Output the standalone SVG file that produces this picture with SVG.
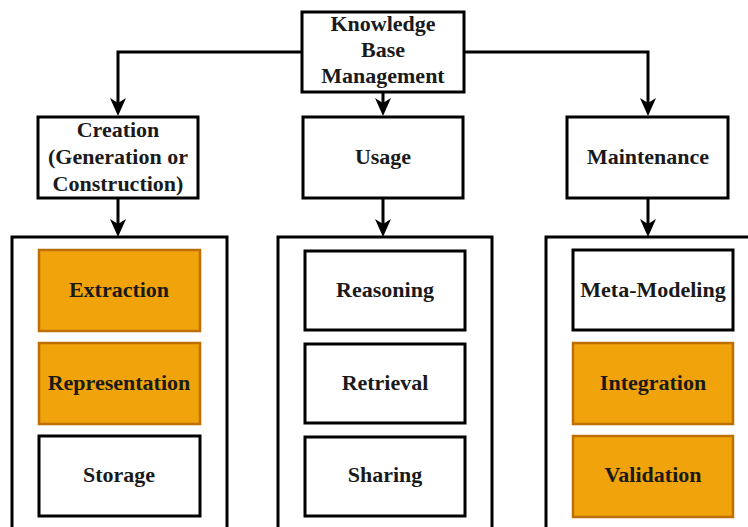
<svg xmlns="http://www.w3.org/2000/svg" width="748" height="527" viewBox="0 0 748 527">
  <style>
    .box { fill: #ffffff; stroke: #000000; stroke-width: 3; }
    .frame { fill: #ffffff; stroke: #000000; stroke-width: 3; }
    .hot { fill: #f0a30a; stroke: #bd7000; stroke-width: 2.5; }
    .lbl { font-family: "Liberation Serif", "Times New Roman", serif; font-weight: bold; font-size: 22px; fill: #1a1a1a; text-anchor: middle; }
    .edge { fill: none; stroke: #000000; stroke-width: 3; }
  </style>
  <defs>
    <marker id="arrow" markerUnits="userSpaceOnUse" markerWidth="18" markerHeight="18" refX="8" refY="8" orient="auto" viewBox="0 0 18 16">
      <path d="M0,0 L18,8 L0,16 L5,8 Z" fill="#000000"/>
    </marker>
  </defs>

  <rect width="748" height="527" fill="#ffffff"/>

  <!-- column frames -->
  <g id="frame-creation"><rect class="frame" x="12" y="237" width="215" height="310"/></g>
  <g id="frame-usage"><rect class="frame" x="278" y="237" width="214" height="310"/></g>
  <g id="frame-maintenance"><rect class="frame" x="546" y="237" width="220" height="310"/></g>

  <!-- connectors -->
  <g id="connectors">
    <path class="edge" d="M302,52 H118 V106" marker-end="url(#arrow)"/>
    <path class="edge" d="M383,92 V106" marker-end="url(#arrow)"/>
    <path class="edge" d="M464,52 H648 V106" marker-end="url(#arrow)"/>
    <path class="edge" d="M118,198 V227" marker-end="url(#arrow)"/>
    <path class="edge" d="M383,198 V227" marker-end="url(#arrow)"/>
    <path class="edge" d="M648,198 V227" marker-end="url(#arrow)"/>
  </g>

  <!-- top node -->
  <g id="kb-management">
    <rect class="box" x="302" y="12" width="162" height="80"/>
    <text class="lbl" x="383" y="31">Knowledge</text>
    <text class="lbl" x="383" y="57">Base</text>
    <text class="lbl" x="383" y="83">Management</text>
  </g>

  <!-- second level -->
  <g id="creation">
    <rect class="box" x="38" y="117" width="160" height="81"/>
    <text class="lbl" x="118" y="137">Creation</text>
    <text class="lbl" x="118" y="164">(Generation or</text>
    <text class="lbl" x="118" y="191">Construction)</text>
  </g>
  <g id="usage">
    <rect class="box" x="303" y="117" width="160" height="81"/>
    <text class="lbl" x="383" y="164">Usage</text>
  </g>
  <g id="maintenance">
    <rect class="box" x="567" y="117" width="161" height="81"/>
    <text class="lbl" x="648" y="164">Maintenance</text>
  </g>

  <!-- creation items -->
  <g id="extraction">
    <rect class="hot" x="39" y="250" width="161" height="81"/>
    <text class="lbl" x="119" y="297">Extraction</text>
  </g>
  <g id="representation">
    <rect class="hot" x="39" y="343" width="161" height="81"/>
    <text class="lbl" x="119" y="390">Representation</text>
  </g>
  <g id="storage">
    <rect class="box" x="39" y="436" width="161" height="80"/>
    <text class="lbl" x="119" y="482">Storage</text>
  </g>

  <!-- usage items -->
  <g id="reasoning">
    <rect class="box" x="305" y="251" width="160" height="79"/>
    <text class="lbl" x="385" y="297">Reasoning</text>
  </g>
  <g id="retrieval">
    <rect class="box" x="305" y="344" width="160" height="79"/>
    <text class="lbl" x="385" y="390">Retrieval</text>
  </g>
  <g id="sharing">
    <rect class="box" x="305" y="437" width="160" height="79"/>
    <text class="lbl" x="385" y="482">Sharing</text>
  </g>

  <!-- maintenance items -->
  <g id="meta-modeling">
    <rect class="box" x="573" y="250" width="160" height="80"/>
    <text class="lbl" x="653" y="297">Meta-Modeling</text>
  </g>
  <g id="integration">
    <rect class="hot" x="573" y="343" width="160" height="81"/>
    <text class="lbl" x="653" y="390">Integration</text>
  </g>
  <g id="validation">
    <rect class="hot" x="573" y="436" width="160" height="81"/>
    <text class="lbl" x="653" y="482">Validation</text>
  </g>
</svg>
